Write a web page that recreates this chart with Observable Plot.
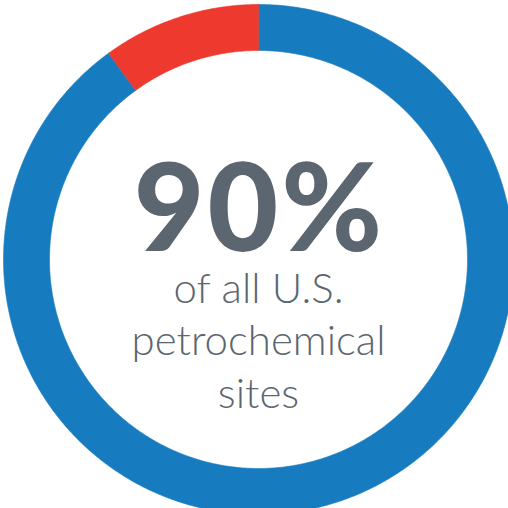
<!DOCTYPE html>
<html>
<head>
<meta charset="utf-8">
<script src="https://cdn.jsdelivr.net/npm/d3@7"></script>
<script src="https://cdn.jsdelivr.net/npm/@observablehq/plot@0.6"></script>
<style>
  html, body { margin: 0; padding: 0; background: #ffffff; }
  #chart svg { display: block; }
  .headline text { letter-spacing: 3px; }
</style>
</head>
<body>
<div id="chart"></div>
<script>
// Data
const categories = ["U.S. petrochemical sites in area", "Other sites"];
const values = [90, 10];
const colors = ["#177bc0", "#ee392e"];
const headline = ["90%"];
const sublines = ["of all U.S.", "petrochemical", "sites"];

// Layout
const W = 508, H = 508;
const cx = 258, cy = 259, R = 255, r = 209;

const total = d3.sum(values);
const rows = [];
let acc = 0;
categories.forEach((c, i) => {
  const a0 = acc / total * 2 * Math.PI;
  acc += values[i];
  const a1 = acc / total * 2 * Math.PI;
  const n = Math.max(4, Math.ceil((a1 - a0) / 0.01));
  const outer = [], inner = [];
  for (let k = 0; k <= n; k++) {
    const a = a0 + (a1 - a0) * k / n;
    outer.push({cat: c, x: cx + R * Math.sin(a), y: cy - R * Math.cos(a)});
    inner.push({cat: c, x: cx + r * Math.sin(a), y: cy - r * Math.cos(a)});
  }
  rows.push(...outer, ...inner.reverse(), outer[0]);
});

const chart = Plot.plot({
  width: W,
  height: H,
  margin: 0,
  style: {background: "#ffffff"},
  x: {domain: [0, W], range: [0, W], axis: null},
  y: {domain: [0, H], range: [0, H], axis: null},
  color: {domain: categories, range: colors},
  marks: [
    Plot.line(rows, {x: "x", y: "y", z: "cat", fill: "cat", stroke: "cat", strokeWidth: 0.6, curve: "linear-closed"}),
    Plot.text(headline, {
      x: () => cx + 1, y: () => 250, text: d => d,
      fontSize: 122, fontWeight: 900, fontFamily: "Lato",
      fill: "#5b6670", lineAnchor: "bottom", textAnchor: "middle",
      className: "headline"
    }),
    Plot.text([sublines.join("\n")], {
      x: () => cx, y: () => 407, text: d => d,
      fontSize: 42, fontWeight: 300, fontFamily: "Lato",
      lineHeight: 1.24,
      fill: "#5b6670", lineAnchor: "bottom", textAnchor: "middle"
    })
  ]
});
document.getElementById("chart").appendChild(chart);
</script>
</body>
</html>
